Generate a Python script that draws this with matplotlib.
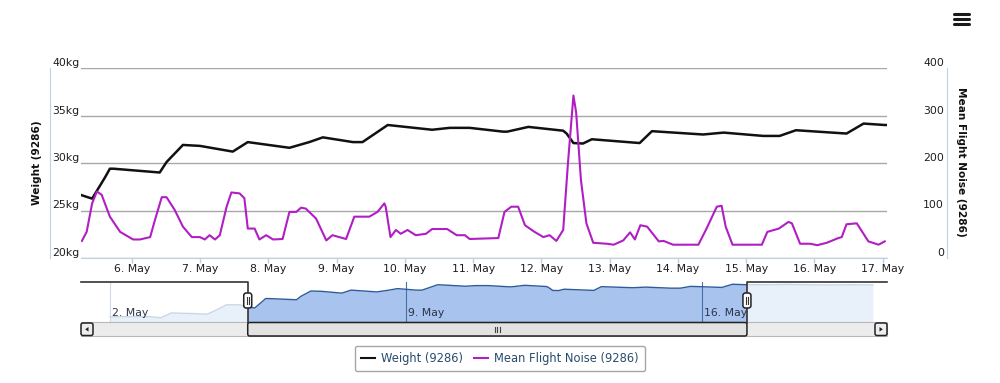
import matplotlib.pyplot as plt
from matplotlib.patches import FancyBboxPatch, Rectangle, Polygon

# weight series (day of May, kg) - navigator shows the whole range
weight_day = [2.0, 2.5, 2.9, 3.2, 3.45, 3.7, 4.0, 4.3, 4.55, 4.75, 5.07, 5.2,
              5.27, 5.42, 5.61, 5.68, 5.73, 6.41, 6.51, 6.75, 7.0, 7.48, 7.70,
              8.31, 8.6, 8.80, 9.24, 9.38, 9.75, 10.40, 10.66, 10.95, 11.44,
              11.5, 11.81, 12.32, 12.37, 12.47, 12.61, 12.74, 13.44, 13.62,
              14.37, 14.67, 15.25, 15.49, 15.73, 16.47, 16.72, 17.03, 17.5,
              18.0, 18.5, 19.0, 19.5, 20.04]
weight_kg = [23.3, 23.4, 23.4, 23.0, 24.6, 24.5, 24.4, 24.2, 25.8, 27.3, 27.3, 26.8,
             26.6, 26.25, 28.5, 29.4, 29.4, 29.0, 30.1, 31.9, 31.8, 31.2, 32.2,
             31.6, 32.2, 32.7, 32.2, 32.2, 34.0, 33.5, 33.7, 33.7, 33.3,
             33.3, 33.8, 33.4, 33.1, 32.1, 32.05, 32.5, 32.1, 33.35,
             33.0, 33.2, 32.85, 32.85, 33.45, 33.1, 34.15, 34.0, 34.0,
             34.1, 34.0, 33.9, 34.0, 33.9]

noise_day = [5.27, 5.34, 5.42, 5.49, 5.56, 5.68, 5.83, 6.02, 6.12, 6.27, 6.34, 6.44,
             6.51, 6.63, 6.75, 6.88, 7.0, 7.07, 7.14, 7.22, 7.29, 7.39, 7.46, 7.58,
             7.65, 7.70, 7.80, 7.87, 7.97, 8.07, 8.21, 8.31, 8.41, 8.48, 8.55, 8.70,
             8.85, 8.94, 9.14, 9.26, 9.48, 9.60, 9.70, 9.72, 9.79, 9.87, 9.94, 10.04,
             10.16, 10.31, 10.40, 10.62, 10.76, 10.88, 10.95, 11.37, 11.46, 11.56,
             11.66, 11.76, 11.90, 12.03, 12.12, 12.22, 12.32, 12.39, 12.47, 12.51,
             12.58, 12.66, 12.76, 12.96, 13.06, 13.20, 13.30, 13.37, 13.45, 13.55,
             13.72, 13.79, 13.93, 14.30, 14.42, 14.57, 14.64, 14.70, 14.80, 15.23,
             15.31, 15.48, 15.62, 15.67, 15.79, 15.94, 16.04, 16.18, 16.35, 16.40,
             16.47, 16.62, 16.67, 16.79, 16.94, 17.03]
noise_val = [36, 55, 115, 140, 133, 87, 55, 39, 39, 44, 80, 128,
             128, 101, 66, 44, 44, 39, 48, 39, 48, 108, 138, 136,
             126, 62, 62, 39, 48, 39, 40, 97, 97, 106, 104, 83,
             37, 48, 40, 87, 87, 97, 115, 108, 44, 59, 51, 59,
             48, 51, 61, 61, 48, 48, 40, 42, 97, 108,
             108, 69, 55, 44, 48, 36, 59, 200, 342, 306,
             164, 73, 32, 30, 28, 37, 54, 39, 69, 66,
             35, 36, 28, 28, 62, 108, 110, 66, 28, 28,
             55, 62, 76, 73, 30, 30, 27, 32, 42, 44,
             71, 73, 62, 35, 28, 35]

day_ticks = list(range(6, 18))
kg_ticks = [20, 25, 30, 35, 40]
noise_ticks = [0, 100, 200, 300, 400]
nav_ticks = [2, 9, 16]

view = (5.257, 17.063)
nav_range = (1.314, 20.375)

W, H = 1000, 383
PT = 0.72  # points per pixel
plt.rcParams['font.family'] = 'DejaVu Sans'
fig = plt.figure(figsize=(10, 3.83), dpi=100)


def box(x0, y0, x1, y1):
    return [x0 / W, 1 - y1 / H, (x1 - x0) / W, (y1 - y0) / H]


axis_col = '#c0d0e0'
lbl_col = '#1e1e1e'

ax = fig.add_axes(box(81, 68, 887, 258))
ax2 = ax.twinx()

l1, = ax.plot(weight_day, weight_kg, color='#111111', lw=1.8, label='Weight (9286)')
l2, = ax2.plot(noise_day, noise_val, color='#b01ec4', lw=1.5, label='Mean Flight Noise (9286)')

ax.set_xlim(*view)
ax.set_ylim(20, 40)
ax2.set_ylim(0, 400)
ax.set_yticks(kg_ticks)
ax.set_yticklabels([f'{v}kg' for v in kg_ticks])
ax2.set_yticks(noise_ticks)
ax.set_xticks(day_ticks)
ax.set_xticklabels([f'{d}. May' for d in day_ticks])
ax.set_axisbelow(True)
ax.grid(axis='y', color='#a8a8a8', lw=1)
ax.grid(axis='x', visible=False)

for s in ['top', 'right']:
    ax.spines[s].set_visible(False)
for s in ['top', 'left', 'bottom']:
    ax2.spines[s].set_visible(False)
ax.spines['left'].set_position(('outward', 31 * PT))
ax.spines['left'].set_color(axis_col)
ax.spines['bottom'].set_color(axis_col)
ax2.spines['right'].set_position(('outward', 60 * PT))
ax2.spines['right'].set_color(axis_col)

ax.tick_params(axis='y', length=0, pad=-2 * PT, labelsize=7.8, labelcolor=lbl_col)
for t in ax.get_yticklabels():
    t.set_ha('left')
    t.set_va('bottom')
ax2.tick_params(axis='y', length=0, pad=-3 * PT, labelsize=7.8, labelcolor=lbl_col)
for t in ax2.get_yticklabels():
    t.set_ha('right')
    t.set_va('bottom')
ax.tick_params(axis='x', length=5 * PT, width=1, color=axis_col, pad=1,
               labelsize=7.8, labelcolor=lbl_col)

fig.text(37 / W, 1 - 163 / H, 'Weight (9286)', rotation=90, ha='center', va='center',
         fontsize=7.6, fontweight='bold', color='#111111')
fig.text(961 / W, 1 - 162 / H, 'Mean Flight Noise (9286)', rotation=270, ha='center',
         va='center', fontsize=7.6, fontweight='bold', color='#111111')

# navigator
nav = fig.add_axes(box(81, 282, 887, 322))
nav.fill_between(weight_day, weight_kg, 21.6, color='#a8c4ee', lw=0)
nav.plot(weight_day, weight_kg, color='#2f5c99', lw=1)
nav.set_xlim(*nav_range)
nav.set_ylim(21.6, 34.9)
nav.set_xticks(nav_ticks)
nav.set_yticks([])
nav.tick_params(axis='x', length=0, labelbottom=False)
nav.grid(axis='x', color='#4a6fa5', lw=0.8)
for s in nav.spines.values():
    s.set_visible(False)
nav.axvspan(nav_range[0], view[0], color='white', alpha=0.75, lw=0, zorder=3)
nav.axvspan(view[1], nav_range[1], color='white', alpha=0.75, lw=0, zorder=3)
for d in nav_ticks:
    nav.annotate(f'{d}. May', xy=(d, 0), xycoords=('data', 'axes fraction'),
                 xytext=(1.5, 3), textcoords='offset points', ha='left', va='bottom',
                 fontsize=7.8, color='#2a3448', zorder=5)

# chrome overlay in pixel coordinates
ov = fig.add_axes([0, 0, 1, 1], facecolor='none')
ov.set_xlim(0, W)
ov.set_ylim(H, 0)
ov.axis('off')


def nav_px(d):
    return 81 + (d - nav_range[0]) / (nav_range[1] - nav_range[0]) * 806


hL, hR = nav_px(view[0]), nav_px(view[1])
ov.add_patch(Rectangle((81, 322), 806, 14, facecolor='#ececec', edgecolor='#b8b8b8', lw=0.8))
ov.add_patch(FancyBboxPatch((hL, 322.5), hR - hL, 13.5, boxstyle='round,pad=0,rounding_size=2',
                            facecolor='#e2e2e2', edgecolor='#222222', lw=1.1))
cx = (hL + hR) / 2
for dx in (-2.5, 0, 2.5):
    ov.plot([cx + dx, cx + dx], [326.5, 331.5], color='#444444', lw=0.8)
ov.plot([81, hL, hL], [282, 282, 323], color='#333333', lw=1.2)
ov.plot([887, hR, hR], [282, 282, 323], color='#333333', lw=1.2)
for bx, sgn in ((81, -1), (875, 1)):
    ov.add_patch(FancyBboxPatch((bx, 323), 12, 12.5, boxstyle='round,pad=0,rounding_size=2',
                                facecolor='#eeeeee', edgecolor='#222222', lw=1.1))
    mx = bx + 6
    ov.add_patch(Polygon([(mx + 1.8 * sgn, 329.3), (mx - 1.5 * sgn, 327), (mx - 1.5 * sgn, 331.6)],
                         closed=True, color='#222222', lw=0))
for hx in (hL, hR):
    ov.add_patch(FancyBboxPatch((hx - 4, 293), 8, 15, boxstyle='round,pad=0,rounding_size=2.5',
                                facecolor='white', edgecolor='#222222', lw=1.1, zorder=6))
    for dx in (-1.2, 1.2):
        ov.plot([hx + dx, hx + dx], [297, 304], color='#333333', lw=0.8, zorder=7)

# export menu icon
for y in (14, 19, 24):
    ov.plot([954, 969], [y, y], color='#1a1a1a', lw=2.2, solid_capstyle='round')

leg = fig.legend(handles=[l1, l2], loc='center', bbox_to_anchor=(500 / W, 1 - 358.5 / H),
                 ncol=2, fontsize=8.3, frameon=True, fancybox=True, handlelength=1.22,
                 handletextpad=0.52, columnspacing=0.96, borderpad=0.55)
leg.get_frame().set_edgecolor('#909090')
leg.get_frame().set_linewidth(1)
for t in leg.get_texts():
    t.set_color('#274b6d')
for h in leg.legend_handles:
    h.set_linewidth(1.5)

fig.savefig('out.png', dpi=100)
